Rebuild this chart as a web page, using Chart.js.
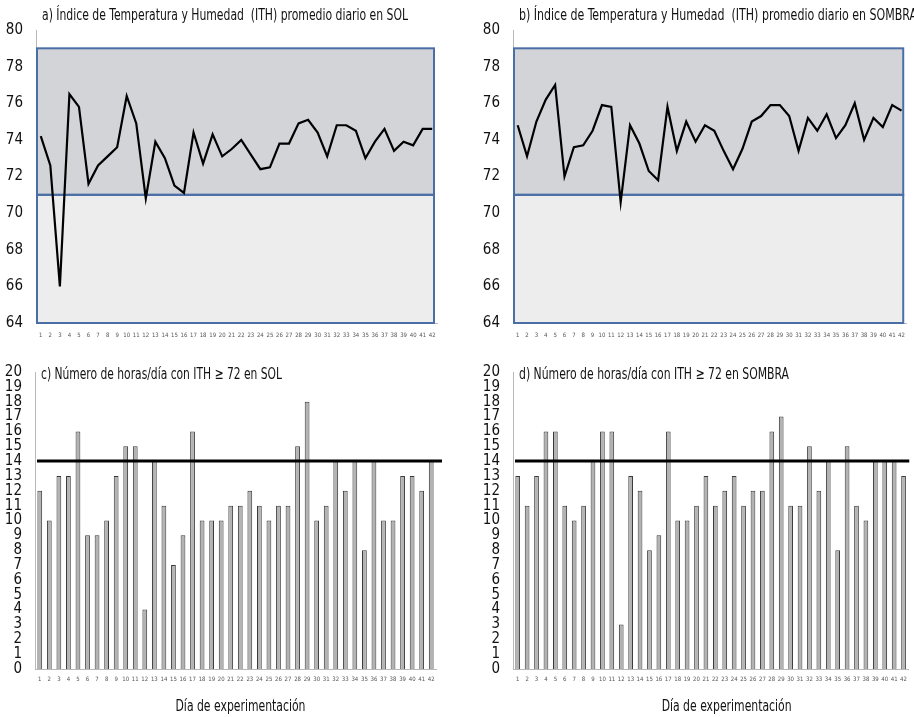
<!DOCTYPE html>
<html>
<head>
<meta charset="utf-8">
<script src="https://cdn.jsdelivr.net/npm/chart.js@4"></script>
<style>
  body { margin: 0; background: #fff; }
  #wrap { position: relative; width: 914px; height: 717px; }
  canvas { position: absolute; }
</style>
</head>
<body>
<div id="wrap">
  <canvas id="ithSol" width="457" height="345" style="left:0;top:0"></canvas>
  <canvas id="ithSombra" width="457" height="345" style="left:457px;top:0"></canvas>
  <canvas id="horasSol" width="457" height="372" style="left:0;top:345px"></canvas>
  <canvas id="horasSombra" width="457" height="372" style="left:457px;top:345px"></canvas>
</div>
<script>
const days = Array.from({ length: 42 }, (_, i) => String(i + 1))

const ithSol = [74.2, 72.6, 66.0, 76.5, 75.8, 71.6, 72.6, 73.1, 73.6, 76.4,
  74.9, 70.8, 73.9, 73.0, 71.5, 71.1, 74.4, 72.7, 74.3, 73.1,
  73.5, 74.0, 73.2, 72.4, 72.5, 73.8, 73.8, 74.9, 75.1, 74.4,
  73.1, 74.8, 74.8, 74.5, 73.0, 73.9, 74.6, 73.4, 73.9, 73.7,
  74.6, 74.6]

const ithSombra = [74.8, 73.1, 75.0, 76.2, 77.0, 72.0, 73.6, 73.7, 74.5, 75.9,
  75.8, 70.6, 74.8, 73.8, 72.3, 71.8, 75.8, 73.4, 75.0, 73.9,
  74.8, 74.5, 73.4, 72.4, 73.5, 75.0, 75.3, 75.9, 75.9, 75.3,
  73.4, 75.2, 74.5, 75.4, 74.1, 74.8, 76.0, 74.0, 75.2, 74.7,
  75.9, 75.6]

const horasSol = [12, 10, 13, 13, 16, 9, 9, 10, 13, 15,
  15, 4, 14, 11, 7, 9, 16, 10, 10, 10,
  11, 11, 12, 11, 10, 11, 11, 15, 18, 10,
  11, 14, 12, 14, 8, 14, 10, 10, 13, 13,
  12, 14]

const horasSombra = [13, 11, 13, 16, 16, 11, 10, 11, 14, 16,
  16, 3, 13, 12, 8, 9, 16, 10, 10, 11,
  13, 11, 12, 13, 11, 12, 12, 16, 17, 11,
  11, 15, 12, 14, 8, 15, 11, 10, 14, 14,
  14, 13]

// zona de confort / alerta del ITH
const ithBands = [[64, 71, '#ecedec'], [71, 79, '#d3d4d7']]
const umbralHoras = 14

const titleA = 'a) Índice de Temperatura y Humedad  (ITH) promedio diario en SOL'
const titleB = 'b) Índice de Temperatura y Humedad  (ITH) promedio diario en SOMBRA'
const titleC = 'c) Número de horas/día con ITH ≥ 72 en SOL'
const titleD = 'd) Número de horas/día con ITH ≥ 72 en SOMBRA'
const xTitle = 'Día de experimentación'

const FONT = '"DejaVu Sans Condensed", "Liberation Sans", sans-serif'
const TITLE_SIZE = 16

// the original text is set in a narrow face, so squeeze ours to the same width
function squeezedText(ctx, text, x, y, width, align) {
  ctx.save()
  ctx.font = `${TITLE_SIZE}px ${FONT}`
  ctx.fillStyle = '#111'
  ctx.textBaseline = 'middle'
  const sx = width / ctx.measureText(text).width
  const left = align === 'center' ? x - width / 2 : x
  ctx.translate(left, y)
  ctx.scale(sx, 1)
  ctx.fillText(text, 0, 0)
  ctx.restore()
}

const panelText = {
  id: 'panelText',
  afterDraw(chart, args, opts) {
    const { ctx, chartArea } = chart
    squeezedText(ctx, opts.text, chartArea.left + opts.dx, opts.y, opts.width, 'left')
    if (opts.xTitle) {
      const cx = (chartArea.left + chartArea.right) / 2 + opts.xTitleDx
      squeezedText(ctx, opts.xTitle, cx, opts.xTitleY, 130, 'center')
    }
  }
}

const bands = {
  id: 'bands',
  beforeDatasetsDraw(chart, args, opts) {
    if (!opts.ranges) return
    const { ctx, chartArea, scales: { y } } = chart
    const x0 = chartArea.left + 1
    const x1 = chartArea.right - 3
    ctx.save()
    opts.ranges.forEach(([lo, hi, color]) => {
      const top = y.getPixelForValue(hi)
      const bot = y.getPixelForValue(lo)
      ctx.fillStyle = color
      ctx.fillRect(x0, top, x1 - x0, bot - top)
    })
    ctx.strokeStyle = '#4a6ea6'
    ctx.lineWidth = 2
    opts.ranges.forEach(([lo, hi]) => {
      const top = y.getPixelForValue(hi)
      const bot = y.getPixelForValue(lo)
      ctx.strokeRect(x0, top, x1 - x0, bot - top)
    })
    ctx.restore()
  }
}

const threshold = {
  id: 'threshold',
  afterDatasetsDraw(chart, args, opts) {
    if (opts.value == null) return
    const { ctx, chartArea, scales: { y } } = chart
    const py = y.getPixelForValue(opts.value)
    ctx.save()
    ctx.strokeStyle = '#000'
    ctx.lineWidth = 3
    ctx.beginPath()
    ctx.moveTo(chartArea.left + 2, py)
    ctx.lineTo(chartArea.right + opts.extend, py)
    ctx.stroke()
    ctx.restore()
  }
}

function xAxis(height, pad) {
  return {
    offset: true,
    grid: { display: false, drawTicks: false },
    border: { display: true, color: '#b8b8b8', width: 1 },
    ticks: { autoSkip: false, maxRotation: 0, padding: pad, color: '#555', font: { size: 6, family: FONT } },
    afterFit: s => { s.height = height }
  }
}

function yAxis(width, min, max, step) {
  return {
    min, max,
    grid: { display: false, drawTicks: false },
    border: { display: true, color: '#b8b8b8', width: 1 },
    ticks: { stepSize: step, autoSkip: false, padding: 13, color: '#111', font: { size: 15, family: FONT } },
    afterFit: s => { s.width = width }
  }
}

function lineChart(id, title, titleWidth, values, yWidth, padRight) {
  return new Chart(document.getElementById(id), {
    type: 'line',
    data: {
      labels: days,
      datasets: [{
        data: values,
        borderColor: '#000',
        borderWidth: 2.2,
        pointRadius: 0,
        tension: 0
      }]
    },
    options: {
      responsive: false,
      animation: false,
      layout: { padding: { top: 30, right: padRight, bottom: 4, left: 0 } },
      plugins: {
        legend: { display: false },
        tooltip: { enabled: false },
        panelText: { text: title, width: titleWidth, dx: 6, y: 16 },
        bands: { ranges: ithBands },
        threshold: { value: null }
      },
      scales: {
        x: xAxis(14, 9),
        y: yAxis(yWidth, 64, 80, 2)
      }
    },
    plugins: [bands, threshold, panelText]
  })
}

function barChart(id, title, titleWidth, values, yWidth, padRight, extend, xTitleDx) {
  return new Chart(document.getElementById(id), {
    type: 'bar',
    data: {
      labels: days,
      datasets: [{
        data: values,
        backgroundColor: '#b3b3b3',
        borderColor: '#3a3a3a',
        borderWidth: 1,
        categoryPercentage: 1,
        barPercentage: 0.5
      }]
    },
    options: {
      responsive: false,
      animation: false,
      layout: { padding: { top: 27, right: padRight, bottom: 0, left: 0 } },
      plugins: {
        legend: { display: false },
        tooltip: { enabled: false },
        panelText: { text: title, width: titleWidth, dx: 6, y: 30, xTitle, xTitleDx, xTitleY: 362 },
        bands: { ranges: null },
        threshold: { value: umbralHoras, extend }
      },
      scales: {
        x: xAxis(48, 7),
        y: yAxis(yWidth, 0, 20, 1)
      }
    },
    plugins: [bands, threshold, panelText]
  })
}

lineChart('ithSol', titleA, 366, ithSol, 36, 20)
lineChart('ithSombra', titleB, 398, ithSombra, 56, 1)
barChart('horasSol', titleC, 241, horasSol, 35, 21, 6, 5)
barChart('horasSombra', titleD, 270, horasSombra, 56, 1, 1, 16)
</script>
</body>
</html>
